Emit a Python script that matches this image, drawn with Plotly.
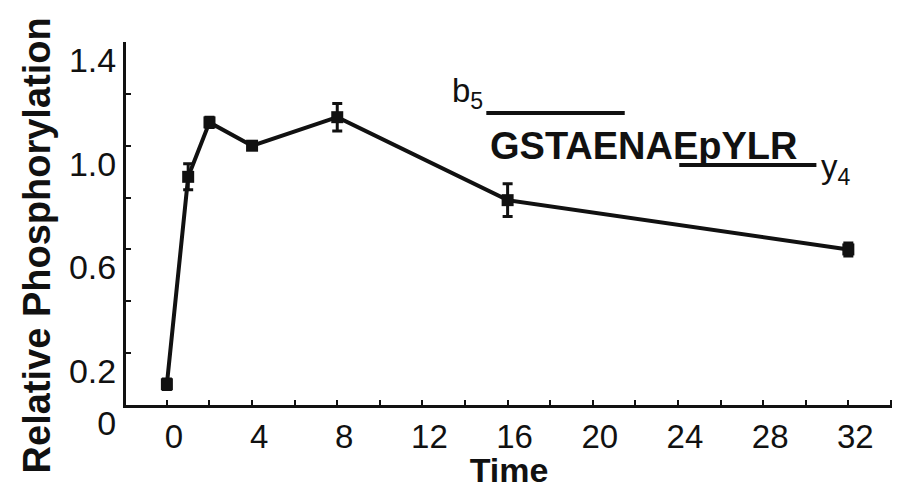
import plotly.graph_objects as go

# Data
time = [0, 1, 2, 4, 8, 16, 32]
phospho = [0.08, 0.88, 1.09, 1.00, 1.11, 0.79, 0.60]
phospho_err = [0.02, 0.05, 0.02, 0.015, 0.053, 0.063, 0.025]

x_tickvals = [0, 4, 8, 12, 16, 20, 24, 28, 32]
x_ticktext = ["0", "4", "8", "12", "16", "20", "24", "28", "32"]
y_tickvals = [0, 0.2, 0.6, 1.0, 1.4]
y_ticktext = ["0", "0.2", "0.6", "1.0", "1.4"]

x_title = "Time"
y_title = "Relative Phosphorylation"
peptide = "GSTAENAEpYLR"
b_label = "b<sub>5</sub>"
y_label = "y<sub>4</sub>"

FONT = "Liberation Sans, Arial, sans-serif"
INK = "#111111"

fig = go.Figure()
fig.add_trace(go.Scatter(
    x=time, y=phospho,
    mode="lines+markers",
    line=dict(color=INK, width=4),
    marker=dict(symbol="square", size=12, color=INK),
    error_y=dict(type="data", array=phospho_err, visible=True,
                 color=INK, thickness=3, width=5),
    showlegend=False,
))

# y-axis title as annotation (placed like the reference)
fig.add_annotation(xref="paper", yref="paper", x=-0.116, y=0.44, text=y_title,
                   textangle=-90, showarrow=False, xanchor="center", yanchor="middle",
                   font=dict(family=FONT, size=38, color=INK, weight="bold"))

# peptide fragment annotation
fig.add_annotation(x=15.1, y=1.0, text=peptide, showarrow=False,
                   xanchor="left", yanchor="middle",
                   font=dict(family=FONT, size=38, color=INK, weight="bold"))
fig.add_annotation(x=14.95, y=1.205, text=b_label, showarrow=False,
                   xanchor="right", yanchor="middle",
                   font=dict(family=FONT, size=33, color=INK))
fig.add_annotation(x=30.6, y=1.0, text=y_label, showarrow=False,
                   xanchor="left", yanchor="top",
                   font=dict(family=FONT, size=33, color=INK))
fig.add_shape(type="line", xref="x", yref="y", x0=15.0, x1=21.5, y0=1.126, y1=1.126,
              line=dict(color=INK, width=4))
fig.add_shape(type="line", xref="x", yref="y", x0=24.06, x1=30.5, y0=0.926, y1=0.926,
              line=dict(color=INK, width=4))

fig.update_layout(
    width=902, height=489,
    margin=dict(l=126, r=10, t=42, b=84),
    paper_bgcolor="white", plot_bgcolor="white",
    font=dict(family=FONT, color=INK),
)
fig.update_xaxes(
    range=[-1.92, 34.05], showgrid=False, zeroline=False,
    showline=True, linecolor=INK, linewidth=3,
    tickmode="array", tickvals=x_tickvals, ticktext=x_ticktext,
    ticks="inside", ticklen=5, tickwidth=2, tickcolor=INK,
    minor=dict(tick0=0, dtick=2, ticks="inside", ticklen=5, tickwidth=2, tickcolor=INK),
    tickfont=dict(family=FONT, size=33, color=INK),
    ticklabelshift=7,
    title=dict(text=x_title, font=dict(family=FONT, size=34, color=INK, weight="bold"), standoff=0),
)
fig.update_yaxes(
    range=[0, 1.4], showgrid=False, zeroline=False,
    showline=True, linecolor=INK, linewidth=3,
    tickmode="array", tickvals=y_tickvals, ticktext=y_ticktext,
    ticks="inside", ticklen=5, tickwidth=2, tickcolor=INK,
    minor=dict(tick0=0, dtick=0.2, ticks="inside", ticklen=5, tickwidth=2, tickcolor=INK),
    tickfont=dict(family=FONT, size=34, color=INK),
    ticklabelshift=18,
)

fig.write_html("out.html")
